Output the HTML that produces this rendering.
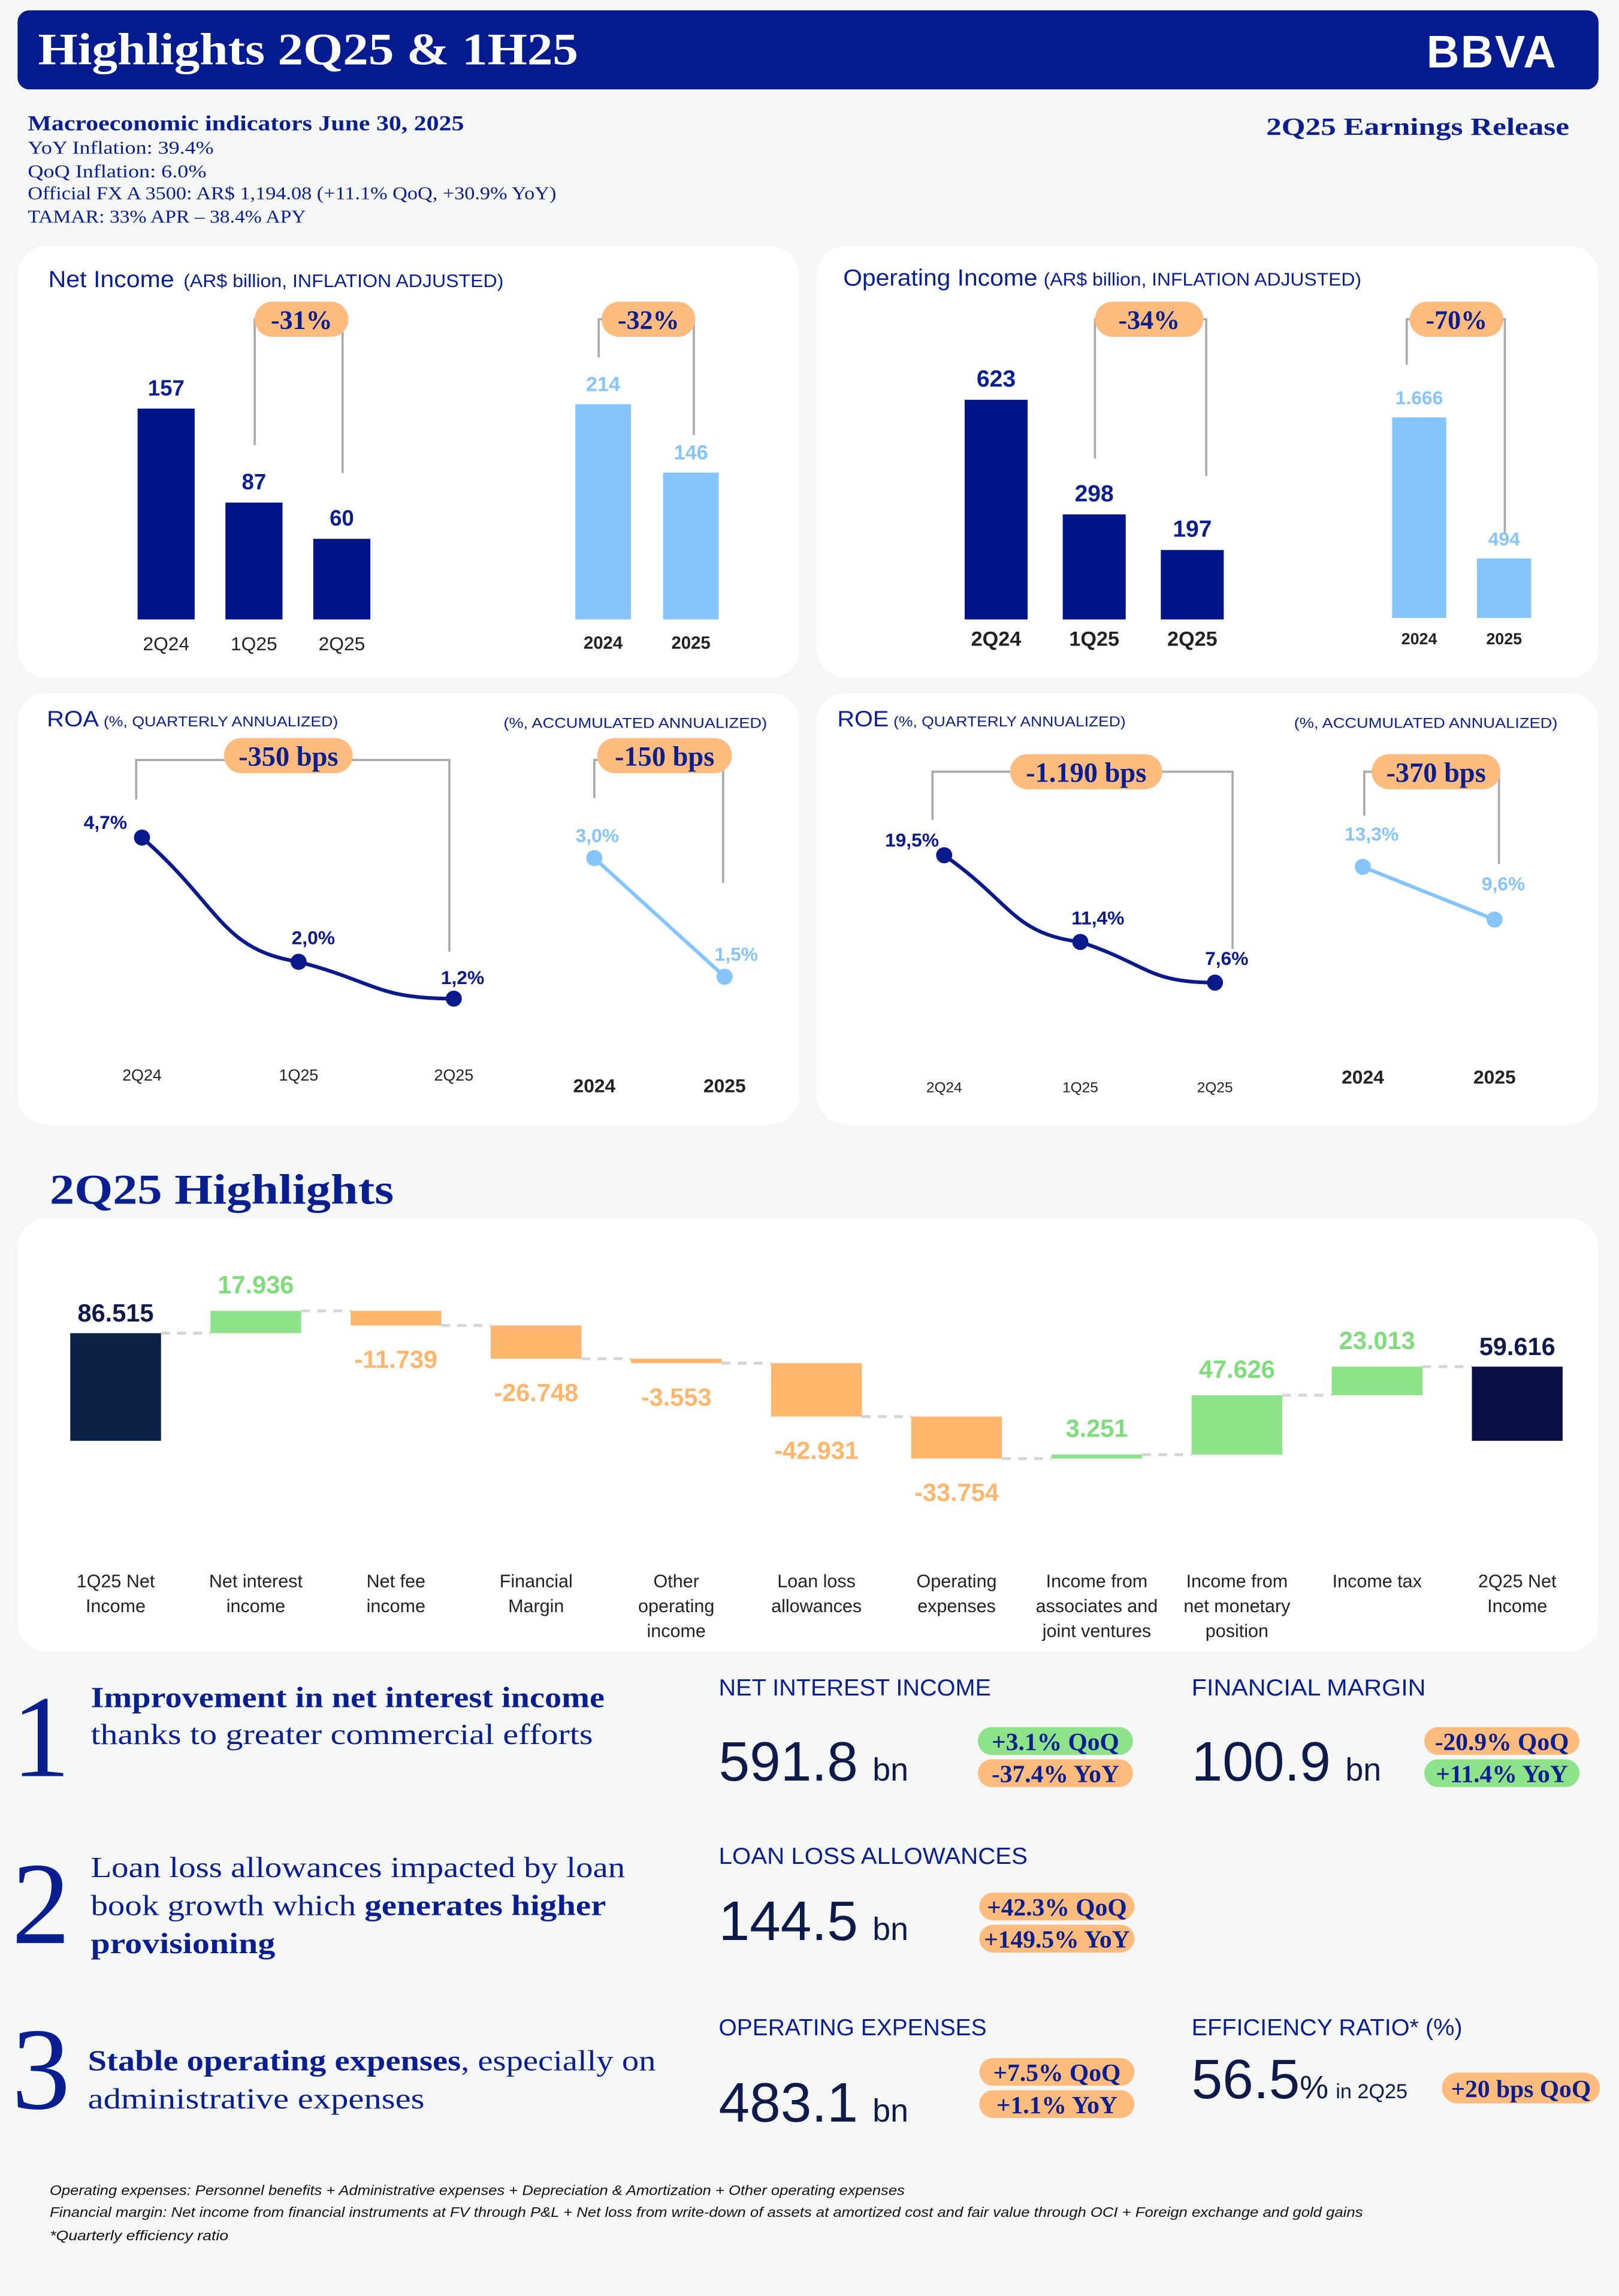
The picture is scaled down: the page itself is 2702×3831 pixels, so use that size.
<!DOCTYPE html>
<html><head><meta charset="utf-8">
<style>
html,body{margin:0;padding:0;background:#f5f7f7;}
svg{display:block}
.sans{font-family:"Liberation Sans",sans-serif}
.serif{font-family:"Liberation Serif",serif}
</style></head>
<body>
<svg id="root" width="2702" height="3831" viewBox="0 0 1106 1568" xmlns="http://www.w3.org/2000/svg">
<rect x="0" y="0" width="1106" height="1568" fill="#f5f7f7"/>
<rect x="12" y="7" width="1080" height="54" rx="8" fill="#041a8f"/>
<text x="26" y="44" class="serif" font-weight="bold" font-size="31" fill="#fff" textLength="369" lengthAdjust="spacingAndGlyphs">Highlights 2Q25 &amp; 1H25</text>
<text x="1064" y="46" class="sans" font-weight="bold" font-size="31" fill="#fff" text-anchor="end" letter-spacing="1">BBVA</text>

<g class="serif" fill="#0a1f8f">
<text x="19" y="89" font-weight="bold" font-size="14.5" textLength="298" lengthAdjust="spacingAndGlyphs">Macroeconomic indicators June 30, 2025</text>
<text x="19" y="105" font-size="12.5" textLength="127" lengthAdjust="spacingAndGlyphs">YoY Inflation: 39.4%</text>
<text x="19" y="121" font-size="12.5" textLength="122" lengthAdjust="spacingAndGlyphs">QoQ Inflation: 6.0%</text>
<text x="19" y="136" font-size="12.5" textLength="361" lengthAdjust="spacingAndGlyphs">Official FX A 3500: AR$ 1,194.08 (+11.1% QoQ, +30.9% YoY)</text>
<text x="19" y="152" font-size="12.5" textLength="190" lengthAdjust="spacingAndGlyphs">TAMAR: 33% APR – 38.4% APY</text>
</g>
<text x="865" y="92" class="serif" font-weight="bold" font-size="17" fill="#0a1f8f" textLength="207" lengthAdjust="spacingAndGlyphs">2Q25 Earnings Release</text>

<rect x="12" y="168" width="534" height="295" rx="20" fill="#fff"/>
<rect x="558" y="168" width="534" height="295" rx="20" fill="#fff"/>
<rect x="12" y="473" width="534" height="295" rx="20" fill="#fff"/>
<rect x="558" y="473" width="534" height="295" rx="20" fill="#fff"/>
<rect x="12" y="832" width="1080" height="296" rx="20" fill="#fff"/>

<text x="33" y="196" class="sans" fill="#0a1f8f" textLength="311" lengthAdjust="spacingAndGlyphs"><tspan font-size="16">Net Income</tspan><tspan font-size="12.5" dx="6">(AR$ billion, INFLATION ADJUSTED)</tspan></text>
<text x="576" y="195" class="sans" fill="#0a1f8f" textLength="354" lengthAdjust="spacingAndGlyphs"><tspan font-size="16">Operating Income</tspan><tspan font-size="12.5" dx="4">(AR$ billion, INFLATION ADJUSTED)</tspan></text>
<text x="32" y="496" class="sans" fill="#0a1f8f" textLength="199" lengthAdjust="spacingAndGlyphs"><tspan font-size="15">ROA</tspan><tspan font-size="10" dx="3">(%, QUARTERLY ANNUALIZED)</tspan></text>
<text x="344" y="497" class="sans" font-size="10" fill="#0a1f8f" textLength="180" lengthAdjust="spacingAndGlyphs">(%, ACCUMULATED ANNUALIZED)</text>
<text x="572" y="496" class="sans" fill="#0a1f8f" textLength="197" lengthAdjust="spacingAndGlyphs"><tspan font-size="15">ROE</tspan><tspan font-size="10" dx="3">(%, QUARTERLY ANNUALIZED)</tspan></text>
<text x="884" y="497" class="sans" font-size="10" fill="#0a1f8f" textLength="180" lengthAdjust="spacingAndGlyphs">(%, ACCUMULATED ANNUALIZED)</text>

<g id="charts"></g>

<text x="34" y="822" class="serif" font-weight="bold" font-size="29" fill="#0a1f8f" textLength="235" lengthAdjust="spacingAndGlyphs">2Q25 Highlights</text>

<g class="serif" fill="#0a1f8f">
<text x="8" y="1213" font-size="80">1</text>
<text x="62" y="1166" font-size="20" font-weight="bold" textLength="351" lengthAdjust="spacingAndGlyphs">Improvement in net interest income</text>
<text x="62" y="1191" font-size="20" textLength="343" lengthAdjust="spacingAndGlyphs">thanks to greater commercial efforts</text>
<text x="8" y="1327" font-size="80">2</text>
<text x="62" y="1282" font-size="20" textLength="365" lengthAdjust="spacingAndGlyphs">Loan loss allowances impacted by loan</text>
<text x="62" y="1308" font-size="20" textLength="352" lengthAdjust="spacingAndGlyphs">book growth which <tspan font-weight="bold">generates higher</tspan></text>
<text x="62" y="1334" font-size="20" font-weight="bold" textLength="126" lengthAdjust="spacingAndGlyphs">provisioning</text>
<text x="8" y="1440" font-size="80">3</text>
<text x="60" y="1414" font-size="20" textLength="388" lengthAdjust="spacingAndGlyphs"><tspan font-weight="bold">Stable operating expenses</tspan>, especially on</text>
<text x="60" y="1440" font-size="20" textLength="230" lengthAdjust="spacingAndGlyphs">administrative expenses</text>
</g>

<g class="sans" fill="#0a1f8f">
<text x="491" y="1158" font-size="16" textLength="186" lengthAdjust="spacingAndGlyphs">NET INTEREST INCOME</text>
<text x="814" y="1158" font-size="16" textLength="160" lengthAdjust="spacingAndGlyphs">FINANCIAL MARGIN</text>
<text x="491" y="1273" font-size="16" textLength="211" lengthAdjust="spacingAndGlyphs">LOAN LOSS ALLOWANCES</text>
<text x="491" y="1390" font-size="16" textLength="183" lengthAdjust="spacingAndGlyphs">OPERATING EXPENSES</text>
<text x="814" y="1390" font-size="16" textLength="185" lengthAdjust="spacingAndGlyphs">EFFICIENCY RATIO* (%)</text>
</g>
<g class="sans" fill="#0e1a4a">
<text x="491" y="1216" font-size="38">591.8<tspan font-size="22" dx="10">bn</tspan></text>
<text x="814" y="1216" font-size="38">100.9<tspan font-size="22" dx="10">bn</tspan></text>
<text x="491" y="1325" font-size="38">144.5<tspan font-size="22" dx="10">bn</tspan></text>
<text x="491" y="1449" font-size="38">483.1<tspan font-size="22" dx="10">bn</tspan></text>
<text x="814" y="1433" font-size="38">56.5<tspan font-size="22">%</tspan><tspan font-size="14" dx="5">in 2Q25</tspan></text>
</g>
<g id="pills"></g>

<g class="sans" font-style="italic" font-size="9.5" fill="#111">
<text x="34" y="1499" textLength="584" lengthAdjust="spacingAndGlyphs">Operating expenses: Personnel benefits + Administrative expenses + Depreciation &amp; Amortization + Other operating expenses</text>
<text x="34" y="1514" textLength="897" lengthAdjust="spacingAndGlyphs">Financial margin: Net income from financial instruments at FV through P&amp;L + Net loss from write-down of assets at amortized cost and fair value through OCI + Foreign exchange and gold gains</text>
<text x="34" y="1530" textLength="122" lengthAdjust="spacingAndGlyphs">*Quarterly efficiency ratio</text>
</g>
</svg>
<script>
// ---- data ----
const niCats = ["2Q24","1Q25","2Q25"];
const niVals = [157, 87, 60];
const niAccCats = ["2024","2025"];
const niAccVals = [214, 146];
const oiCats = ["2Q24","1Q25","2Q25"];
const oiVals = [623, 298, 197];
const oiAccCats = ["2024","2025"];
const oiAccVals = [1666, 494];
const roaCats = ["2Q24","1Q25","2Q25"];
const roaVals = [4.7, 2.0, 1.2];
const roaAccVals = [3.0, 1.5];
const roeCats = ["2Q24","1Q25","2Q25"];
const roeVals = [19.5, 11.4, 7.6];
const roeAccVals = [13.3, 9.6];
const accCats = ["2024","2025"];
const wfCats = [["1Q25 Net","Income"],["Net interest","income"],["Net fee","income"],["Financial","Margin"],["Other","operating","income"],["Loan loss","allowances"],["Operating","expenses"],["Income from","associates and","joint ventures"],["Income from","net monetary","position"],["Income tax"],["2Q25  Net","Income"]];
const wfStart = 86.515;
const wfDeltas = [17.936, -11.739, -26.748, -3.553, -42.931, -33.754, 3.251, 47.626, 23.013];
const wfEnd = 59.616;

const NS="http://www.w3.org/2000/svg";
const charts=document.getElementById('charts');
function mk(tag,attrs,parent){const e=document.createElementNS(NS,tag);for(const k in attrs)e.setAttribute(k,attrs[k]);(parent||charts).appendChild(e);return e;}
function fmt(v,d){return v.toFixed(d).replace('.',',');}
function fmtK(v){return (v<0?'-':'')+Math.abs(v).toFixed(3);}
const NAVY="#0a1f8f",DARKBAR="#001489",LIGHT="#85c5fc",PEACH="#fdbb7e",GREEN="#8ee38a",GREY="#aaaaaa";

function bracket(pts,name){
  const p=mk('polyline',{points:pts,fill:'none',stroke:GREY,'stroke-width':1.5});
  
  
}
bracket("174,304 174,218 234,218 234,323",'net-income-qoq-bracket');
bracket("409,244 409,218 474,218 474,297",'net-income-yoy-bracket');
bracket("748,313 748,218 824,218 824,325",'operating-income-qoq-bracket');
bracket("961,249 961,218 1028,218 1028,364",'operating-income-yoy-bracket');

function bars(cats,vals,x0,step,w,base,k,color,labColor,bold,prefix,labSize,catY,catBold,catSize){
  vals.forEach((v,i)=>{
    const x=x0+i*step, h=v*k;
    const r=mk('rect',{x:x,y:base-h,width:w,height:h,fill:color});
    
    
    const t=mk('text',{x:x+w/2,y:base-h-9,'text-anchor':'middle','font-size':labSize,'font-weight':'bold',fill:labColor,'font-family':'Liberation Sans,sans-serif'});
    t.textContent=(v>=1000?(v/1000).toFixed(3):String(v));
    
    
    const c=mk('text',{x:x+w/2,y:catY,'text-anchor':'middle','font-size':catSize,'font-weight':catBold?'bold':'normal',fill:'#222','font-family':'Liberation Sans,sans-serif'});
    c.textContent=cats[i];
    
    
  });
}
bars(niCats,niVals,94,60,39,423,144/157,DARKBAR,NAVY,true,'net-income',15,444,false,13);
bars(niAccCats,niAccVals,393,60,38,423,147/214,LIGHT,LIGHT,true,'net-income-accum',14,443,true,12);
bars(oiCats,oiVals,659,67,43,423,150/623,DARKBAR,NAVY,true,'operating-income',16,441,true,14);
bars(oiAccCats,oiAccVals,951,58,37,422,137/1666,LIGHT,LIGHT,true,'operating-income-accum',13,440,true,11);

function pill(cx,cy,w,h,txt,fill,name,size,parent){
  const r=mk('rect',{x:cx-w/2,y:cy-h/2,width:w,height:h,rx:h/2,fill:fill},parent);
  
  
  const t=mk('text',{x:cx,y:cy+size*0.36,'text-anchor':'middle','font-size':size,'font-weight':'bold',fill:NAVY,'font-family':'Liberation Serif,serif'},parent);
  t.textContent=txt;
  
  
}
pill(206,218,64,24,'-31%',PEACH,'net-income-qoq-badge',18);
pill(443,218,64,24,'-32%',PEACH,'net-income-yoy-badge',18);
pill(785,218,74,24,'-34%',PEACH,'operating-income-qoq-badge',18);
pill(995,218,64,24,'-70%',PEACH,'operating-income-yoy-badge',18);

function line(cats,vals,xs,yf,color,prefix,dec,labOff,catY,catBold,catSize,curve){
  const pts=vals.map((v,i)=>[xs[i],yf(v)]);
  let d='M'+pts[0][0]+','+pts[0][1];
  if(curve){for(let i=1;i<pts.length;i++){const a=pts[i-1],b=pts[i];const mx=(a[0]+b[0])/2;d+=' C'+mx+','+(a[1]+(b[1]-a[1])*0.55)+' '+mx+','+(b[1]-(i==pts.length-1?0:(b[1]-a[1])*0.1))+' '+b[0]+','+b[1];}}
  else pts.slice(1).forEach(p=>d+=' L'+p[0]+','+p[1]);
  const l=mk('path',{d:d,fill:'none',stroke:color,'stroke-width':2.5});
  
  
  pts.forEach((p,i)=>{
    const c=mk('circle',{cx:p[0],cy:p[1],r:5.5,fill:color});
    
    
    const t=mk('text',{x:p[0]+labOff[i][0],y:p[1]+labOff[i][1],'text-anchor':'middle','font-size':13,'font-weight':'bold',fill:color,'font-family':'Liberation Sans,sans-serif'});
    t.textContent=fmt(vals[i],1)+'%';
    
    
    const a=mk('text',{x:p[0],y:catY,'text-anchor':'middle','font-size':catSize,'font-weight':catBold?'bold':'normal',fill:'#222','font-family':'Liberation Sans,sans-serif'});
    a.textContent=cats[i];
    
    
  });
}
const roaY=v=>719.7-31.43*v, roaAY=v=>748-54*v, roeY=v=>726.6-7.31*v, roeAY=v=>721.4-9.73*v;
bracket("93,546 93,519 307,519 307,650",'roa-qoq-bracket');
bracket("406,545 406,519 494,519 494,603",'roa-yoy-bracket');
bracket("637,560 637,527 842,527 842,648",'roe-qoq-bracket');
bracket("932,557 932,527 1024,527 1024,590",'roe-yoy-bracket');
line(roaCats,roaVals,[97,204,310],roaY,"#0a1a8a",'roa',1,[[-25,-6],[10,-12],[6,-10]],738,false,11,true);
line(accCats,roaAccVals,[406,495],roaAY,LIGHT,'roa-accum',1,[[2,-11],[8,-11]],746,true,13,false);
line(roeCats,roeVals,[645,738,830],roeY,"#0a1a8a",'roe',1,[[-22,-6],[12,-12],[8,-12]],746,false,10,true);
line(accCats,roeAccVals,[931,1021],roeAY,LIGHT,'roe-accum',1,[[6,-18],[6,-20]],740,true,13,false);
pill(197,516,88,24,'-350 bps',PEACH,'roa-qoq-badge',19);
pill(454,516,92,24,'-150 bps',PEACH,'roa-yoy-badge',19);
pill(742,527,104,24,'-1.190 bps',PEACH,'roe-qoq-badge',19);
pill(981,527,88,24,'-370 bps',PEACH,'roe-yoy-badge',19);

// waterfall
const wfY=v=>984-0.85*v;
const wfX=i=>48+i*95.75, wfW=62;
let cum=wfStart;
function wfRect(i,y1,y2,fill,name){const r=mk('rect',{x:wfX(i),y:Math.min(y1,y2),width:wfW,height:Math.max(Math.abs(y2-y1),2),fill:fill});}
function wfText(i,y,txt,fill,name){const t=mk('text',{x:wfX(i)+wfW/2,y:y,'text-anchor':'middle','font-size':17,'font-weight':'bold',fill:fill,'font-family':'Liberation Sans,sans-serif'});t.textContent=txt;}
function conn(i,v){const l=mk('line',{x1:wfX(i)+wfW,x2:wfX(i+1),y1:wfY(v),y2:wfY(v),stroke:'#d5d5d5','stroke-width':2,'stroke-dasharray':'6,5'});}
wfRect(0,wfY(0),wfY(wfStart),'#0b2145','waterfall-bar-start');
wfText(0,wfY(wfStart)-8,fmtK(wfStart),'#0e1a4a','waterfall-value-start');
conn(0,cum);
wfDeltas.forEach((d,k)=>{
  const i=k+1, nv=cum+d, pos=d>=0;
  wfRect(i,wfY(cum),wfY(nv),pos?GREEN:'#feb56c','waterfall-bar-'+i);
  if(pos) wfText(i,wfY(nv)-12,fmtK(d),'#7edc7a','waterfall-value-'+i);
  else wfText(i,wfY(nv)+29,fmtK(d),'#feb56c','waterfall-value-'+i);
  cum=nv; conn(i,cum);
});
wfRect(10,wfY(0),wfY(wfEnd),'#0a0f47','waterfall-bar-end');
wfText(10,wfY(wfEnd)-8,fmtK(wfEnd),'#0e1a4a','waterfall-value-end');
wfCats.forEach((lines,i)=>{
  lines.forEach((s,j)=>{
    const t=mk('text',{x:wfX(i)+wfW/2,y:1084+j*17,'text-anchor':'middle','font-size':12.5,fill:'#222','font-family':'Liberation Sans,sans-serif'});
    t.textContent=s;
    
    
  });
});

const pg=document.getElementById('pills');
pill(721,1189,106,19,'+3.1% QoQ',GREEN,'nii-qoq-badge',17,pg);
pill(721,1211,106,19,'-37.4% YoY',PEACH,'nii-yoy-badge',17,pg);
pill(1026,1189,106,19,'-20.9% QoQ',PEACH,'fm-qoq-badge',17,pg);
pill(1026,1211,106,19,'+11.4% YoY',GREEN,'fm-yoy-badge',17,pg);
pill(722,1302,106,19,'+42.3% QoQ',PEACH,'lla-qoq-badge',17,pg);
pill(722,1324,106,19,'+149.5% YoY',PEACH,'lla-yoy-badge',17,pg);
pill(722,1415,106,19,'+7.5% QoQ',PEACH,'opex-qoq-badge',17,pg);
pill(722,1437,106,19,'+1.1% YoY',PEACH,'opex-yoy-badge',17,pg);
pill(1039,1426,108,21,'+20 bps QoQ',PEACH,'eff-qoq-badge',17,pg);
</script>
</body></html>
